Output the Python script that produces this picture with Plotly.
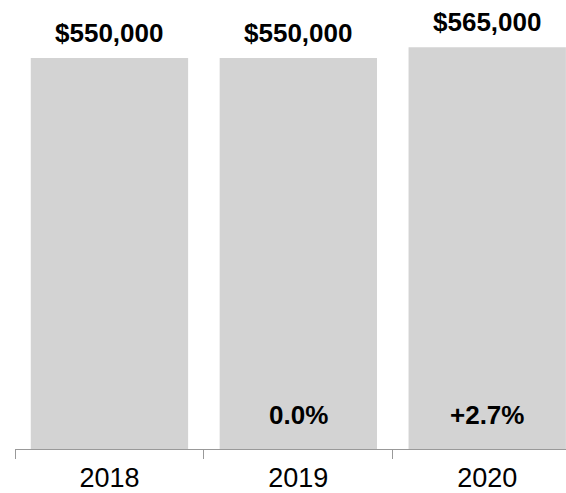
import plotly.graph_objects as go

# Annual values
years = ["2018", "2019", "2020"]
values = [550000, 550000, 565000]

# Year-over-year change labels
changes = [""]
for prev, cur in zip(values[:-1], values[1:]):
    pct = (cur - prev) / prev * 100
    changes.append(f"{'+' if pct > 0 else ''}{pct:.1f}%")

FONT = "Liberation Sans, Arial, Helvetica, sans-serif"

fig = go.Figure(
    go.Bar(
        x=years,
        y=values,
        marker=dict(color="#d3d3d3", line=dict(width=0)),
        hoverinfo="skip",
    )
)

# Category axes take annotation positions as category indices
for i, v in enumerate(values):
    fig.add_annotation(
        x=i, y=v, xref="x", yref="y", text="<b>&#36;" + f"{v:,.0f}</b>",
        showarrow=False, yanchor="bottom", yshift=8,
        font=dict(family=FONT, size=26, color="black"),
    )
for i, c in enumerate(changes):
    if c:
        fig.add_annotation(
            x=i, y=0, xref="x", yref="y", text=f"<b>{c}</b>",
            showarrow=False, yanchor="bottom", yshift=17,
            font=dict(family=FONT, size=26, color="black"),
        )

fig.update_layout(
    width=566, height=493,
    margin=dict(l=15, r=0, t=0, b=44),
    paper_bgcolor="white", plot_bgcolor="white",
    bargap=0.167,
    showlegend=False,
    xaxis=dict(
        type="category", range=[-0.5, 2.417],
        showline=True, linecolor="#999999", linewidth=1,
        ticks="outside", tickson="boundaries", ticklen=9, tickcolor="#999999",
        tickfont=dict(family=FONT, size=27, color="black"),
        ticklabelstandoff=5,
        showgrid=False, zeroline=False,
    ),
    yaxis=dict(
        range=[0, 631600], showticklabels=False, ticks="", showline=False,
        showgrid=False, zeroline=False,
    ),
)

fig.write_html("out.html")
